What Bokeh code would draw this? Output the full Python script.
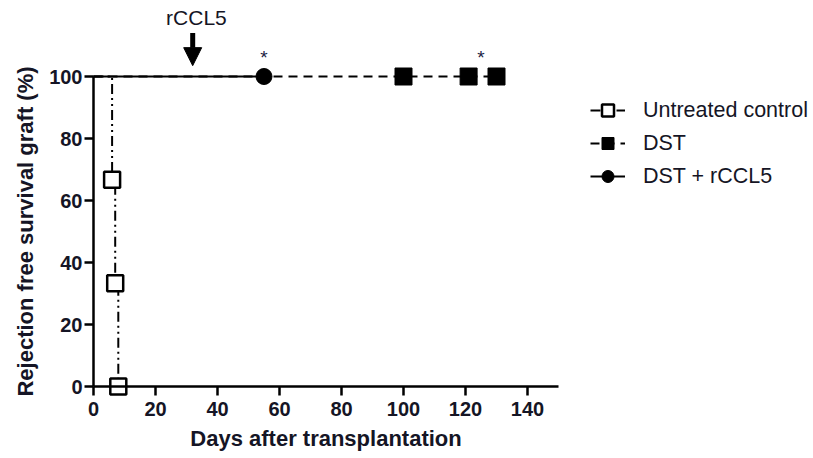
from bokeh.plotting import figure
from bokeh.models import Range1d, FixedTicker, Legend, LegendItem, Arrow, NormalHead
from bokeh.core.properties import value
from bokeh.embed import file_html
from bokeh.resources import INLINE

# ---- data ----
untreated_days = [0, 6, 7, 8]
untreated_surv = [100, 66.7, 33.3, 0]
untreated_mark_days = [6, 7, 8]
untreated_mark_surv = [66.7, 33.3, 0]

dst_days = [0, 130]
dst_surv = [100, 100]
dst_mark_days = [100, 121, 130]
dst_mark_surv = [100, 100, 100]

rccl5_days = [0, 55]
rccl5_surv = [100, 100]
rccl5_mark_days = [55]
rccl5_mark_surv = [100]

sig_days = [55, 125]
sig_y = [106, 106]
sig_text = ["*", "*"]

arrow_day = [32]
arrow_top = [114]
arrow_tip = [103.5]
arrow_text = ["rCCL5"]
arrow_text_y = [119]

x_ticks = [0, 20, 40, 60, 80, 100, 120, 140]
y_ticks = [0, 20, 40, 60, 80, 100]

# ---- layout ----
PX = 3.1
W, H = 813, 458
ORIGIN_X, ORIGIN_Y = 93, 386   # pixel position of (0, 0)
X_START = -ORIGIN_X / PX
X_END = (W - ORIGIN_X) / PX
Y_END = ORIGIN_Y / PX
Y_START = -(H - ORIGIN_Y) / PX

TXT = "#151525"
FONT = "Liberation Sans"

p = figure(frame_width=W, frame_height=H,
           x_range=Range1d(X_START, X_END), y_range=Range1d(Y_START, Y_END),
           output_backend="svg", toolbar_location=None,
           min_border_left=0, min_border_right=0, min_border_top=0,
           min_border_bottom=0)
p.grid.visible = False
p.outline_line_color = None
p.background_fill_color = "white"
p.border_fill_color = "white"

for ax in (p.xaxis[0], p.yaxis[0]):
    ax.axis_line_width = 2.5
    ax.axis_line_color = "black"
    ax.major_tick_line_width = 2.5
    ax.major_tick_line_color = "black"
    ax.major_tick_in = 0
    ax.major_tick_out = 9
    ax.minor_tick_line_color = None
    ax.major_label_text_font = FONT
    ax.major_label_text_font_style = "bold"
    ax.major_label_text_font_size = "20px"
    ax.major_label_text_color = TXT
    ax.axis_label_text_font = FONT
    ax.axis_label_text_font_style = "bold"
    ax.axis_label_text_font_size = "22px"
    ax.axis_label_text_color = TXT

p.xaxis.ticker = FixedTicker(ticks=x_ticks)
p.yaxis.ticker = FixedTicker(ticks=y_ticks)
p.xaxis.bounds = (0, 150)
p.yaxis.bounds = (0, 100)
p.xaxis.fixed_location = 0
p.yaxis.fixed_location = 0
p.xaxis.axis_label = "Days after transplantation"
p.yaxis.axis_label = "Rejection free survival graft (%)"
p.xaxis.major_label_standoff = 6
p.xaxis.axis_label_standoff = 7
p.yaxis.major_label_standoff = 2
p.yaxis.axis_label_standoff = 8

# DST (dashed)
l_dst = p.line(dst_days, dst_surv, line_color="black", line_width=2, line_dash="9 6")
m_dst = p.scatter(dst_mark_days, dst_mark_surv, marker="square", size=17,
                  fill_color="black", line_color="black")

# Untreated control (dash-dot-dot step)
l_unt = p.step(untreated_days, untreated_surv, mode="after", line_color="black",
               line_width=2, line_dash="10 4 2 4 2 4")
m_unt = p.scatter(untreated_mark_days, untreated_mark_surv, marker="square", size=16,
                  fill_color="white", line_color="black", line_width=2.5)

# DST + rCCL5 (solid)
l_rc = p.line(rccl5_days, rccl5_surv, line_color="black", line_width=2)
m_rc = p.scatter(rccl5_mark_days, rccl5_mark_surv, marker="circle", size=16,
                 fill_color="black", line_color="black")

# significance asterisks
p.text(sig_days, sig_y, text=sig_text, text_align="center", text_baseline="middle",
       text_font=value(FONT), text_font_size="19px", text_color="#222244")

# rCCL5 arrow annotation
p.add_layout(Arrow(x_start=arrow_day[0], y_start=arrow_top[0], x_end=arrow_day[0], y_end=arrow_tip[0],
                   line_width=5, line_color="black",
                   end=NormalHead(size=18, fill_color="black", line_color="black", line_width=1)))
p.text([arrow_day[0] + 1.2], arrow_text_y, text=arrow_text, text_align="center", text_baseline="middle",
       text_font=value(FONT), text_font_size="21px", text_color=TXT)

# legend box: left edge at 590 px, top at ~95 px (screen units from frame bottom-left)
legend = Legend(items=[
    LegendItem(label="Untreated control", renderers=[l_unt, m_unt]),
    LegendItem(label="DST", renderers=[l_dst, m_dst]),
    LegendItem(label="DST + rCCL5", renderers=[l_rc, m_rc]),
], location=(590, H - 191))
legend.label_text_font = FONT
legend.label_text_font_size = "21.5px"
legend.label_text_color = TXT
legend.glyph_width = 35
legend.glyph_height = 30
legend.label_height = 30
legend.spacing = 3
legend.label_standoff = 18
legend.padding = 0
legend.margin = 0
legend.border_line_color = None
legend.background_fill_alpha = 0
p.add_layout(legend)

open("out.html", "w").write(file_html(p, INLINE))
